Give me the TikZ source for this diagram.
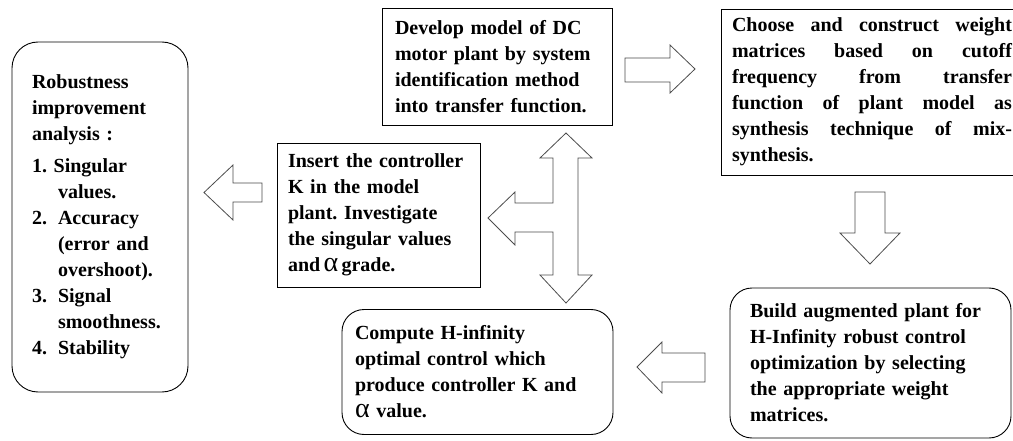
\documentclass[tikz,border=0pt]{standalone}
\usepackage{fontspec}
\setmainfont{Liberation Serif}
\newfontfamily\alphafont{Liberation Serif}
\newcommand{\myalpha}{{\alphafont\mdseries\fontsize{28}{26}\selectfont α}}
\newcommand{\jline}[1]{\leavevmode\hbox to 280pt{#1}}
\frenchspacing
\begin{document}
\begin{tikzpicture}[x=1pt,y=-1pt,
  txt/.style={font={\bfseries\fontsize{20}{26}\selectfont\frenchspacing}, align=left, inner ysep=0pt},
  sqbox/.style={txt, draw=black, line width=0.9pt},
  rbox/.style={txt, draw=black, line width=0.9pt, rounded corners=22pt},
  blockarrow/.style={draw=black!70, line width=0.8pt, fill=white, line join=miter}]
\useasboundingbox (0,0) rectangle (1013,441);

% boxes
\node[rbox, rounded corners=26pt, minimum width=176pt, minimum height=350pt, inner xsep=20pt, text width=136pt] (robust) at (100,217)
 {Robustness\\ improvement\\ analysis :\\[6pt]
  1. Singular\\ \hspace*{26pt}values.\\
  \makebox[26pt][l]{2.}Accuracy\\ \hspace*{26pt}(error and\\ \hspace*{26pt}overshoot).\\
  \makebox[26pt][l]{3.}Signal\\ \hspace*{26pt}smoothness.\\
  \makebox[26pt][l]{4.}Stability};

\node[sqbox, minimum width=230pt, minimum height=117pt, inner xsep=13pt, text width=204pt] (develop) at (497,67)
 {Develop model of DC\\ motor plant by system\\ identification method\\ into transfer function.};

\node[sqbox, minimum width=302pt, minimum height=166pt, inner xsep=11pt, text width=280pt] (choose) at (872,92)
 {\jline{Choose\hfill and\hfill construct\hfill weight}\\
  \jline{matrices\hfill based\hfill on\hfill cutoff}\\
  \jline{frequency\hfill from\hfill transfer}\\
  \jline{function\hfill of\hfill plant\hfill model\hfill as}\\
  \jline{synthesis\hfill technique\hfill of\hfill mix-}\\
  synthesis.};

\node[sqbox, minimum width=203pt, minimum height=144pt, inner xsep=11pt, text width=181pt] (insert) at (378.5,215)
 {Insert the controller\\ K in the model\\ plant. Investigate\\ the singular values\\ and\,\myalpha\,grade.};

\node[rbox, minimum width=271pt, minimum height=125pt, inner xsep=13pt, text width=245pt] (compute) at (477.5,372)
 {Compute H-infinity\\ optimal control which\\ produce controller K and\\ \myalpha\ value.};

\node[rbox, minimum width=281pt, minimum height=150pt, inner xsep=20pt, text width=241pt] (build) at (870.5,363)
 {Build augmented plant for\\ H-Infinity robust control\\ optimization by selecting\\ the appropriate weight\\ matrices.};

% block arrows
\draw[blockarrow] (625,58) -- (670,58) -- (670,45) -- (695,69) -- (670,93) -- (670,82) -- (625,82) -- cycle;
\draw[blockarrow] (855,192) -- (885,192) -- (885,233) -- (900,233) -- (870,264) -- (840,233) -- (855,233) -- cycle;
\draw[blockarrow] (262,183) -- (233,183) -- (233,165) -- (204,192.5) -- (233,220) -- (233,202) -- (262,202) -- cycle;
\draw[blockarrow] (566,133) -- (592,158) -- (578,158) -- (578,275) -- (592,275) -- (566,303) -- (540,275) -- (553,275)
  -- (553,232) -- (515,232) -- (515,245) -- (488,218) -- (515,192) -- (515,203) -- (553,203) -- (553,158) -- (540,158) -- cycle;
\draw[blockarrow] (705,353) -- (662,353) -- (662,342) -- (637,367) -- (662,393) -- (662,382) -- (705,382) -- cycle;
\end{tikzpicture}
\end{document}
